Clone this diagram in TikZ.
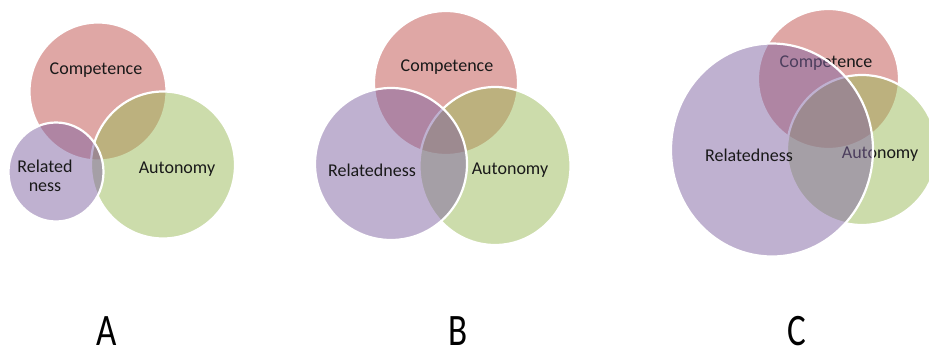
\documentclass[tikz,border=0pt]{standalone}
\usepackage{fontspec}
\setmainfont{Carlito}
\usepackage{tikz}
\usetikzlibrary{shapes.geometric}
\definecolor{compred}{HTML}{C0504D}
\definecolor{autogreen}{HTML}{9BBB59}
\definecolor{relpurple}{HTML}{8064A2}
\tikzstyle{setcircle} = [ellipse, draw=white, line width=2.2pt, fill opacity=0.5, draw opacity=1, inner sep=0pt]
\tikzstyle{competence} = [setcircle, fill=compred]
\tikzstyle{autonomy} = [setcircle, fill=autogreen]
\tikzstyle{relatedness} = [setcircle, fill=relpurple]
\tikzstyle{setlabel} = [text=black!90, font=\fontsize{18}{19}\selectfont, align=center, inner sep=0pt]
\tikzstyle{panel} = [text=black, font=\fontsize{45}{50}\selectfont, inner sep=0pt]

\begin{document}
\begin{tikzpicture}[x=1pt, y=-1pt]
        \clip (0,0) rectangle (929,350);
        \fill [white] (0,0) rectangle (929,350);
        % A
        \node (compA) [competence, minimum width=137, minimum height=138] at (98,91.5) {};
        \node (compAtxt) [setlabel] at (96,70) {Competence};
        \node (autoA) [autonomy, minimum width=144, minimum height=147] at (163,165) {};
        \node (autoAtxt) [setlabel] at (177,169) {Autonomy};
        \node (relA) [relatedness, minimum width=95, minimum height=99] at (56,172) {};
        \node (relAtxt) [setlabel] at (45,176) {Related\\ness};
        % B
        \node (compB) [competence, minimum width=144, minimum height=144] at (446,83) {};
        \node (compBtxt) [setlabel] at (447,67) {Competence};
        \node (autoB) [autonomy, minimum width=151, minimum height=158] at (495,166) {};
        \node (autoBtxt) [setlabel] at (510,170) {Autonomy};
        \node (relB) [relatedness, minimum width=152, minimum height=152] at (391,164) {};
        \node (relBtxt) [setlabel] at (372,170) {Relatedness};
        % C
        \node (compC) [competence, minimum width=141, minimum height=140] at (828.5,79) {};
        \node (compCtxt) [setlabel] at (826,63) {Competence};
        \node (autoC) [autonomy, minimum width=150, minimum height=150] at (862,150) {};
        \node (autoCtxt) [setlabel] at (880,154) {Autonomy};
        \node (relC) [relatedness, minimum width=202, minimum height=213] at (772,150) {};
        \node (relCtxt) [setlabel] at (749,155) {Relatedness};
        % panel letters
        \node (letA) [panel] at (107,331) {\scalebox{0.78}[1]{A}};
        \node (letB) [panel] at (458,331) {\scalebox{0.78}[1]{B}};
        \node (letC) [panel] at (797,331) {\scalebox{0.78}[1]{C}};
    \end{tikzpicture}
\end{document}
